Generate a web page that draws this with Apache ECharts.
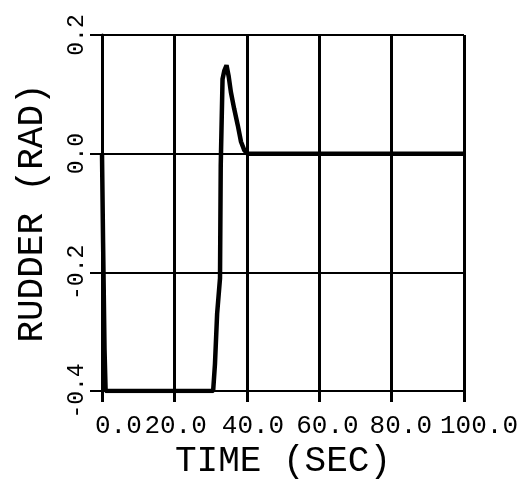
<!DOCTYPE html>
<html>
<head>
<meta charset="utf-8">
<script src="https://cdn.jsdelivr.net/npm/echarts@6/dist/echarts.min.js"></script>
<style>
  html, body { margin: 0; padding: 0; background: #ffffff; }
  #chart { width: 523px; height: 487px; }
</style>
</head>
<body>
<div id="chart"></div>
<script>
// Rudder deflection history
const timeSec = [0, 0.3, 0.7, 1.0, 30.7, 31.2, 31.8, 32.6, 32.8, 33.3, 33.8, 34.4, 35.0, 35.6, 36.5, 37.5, 38.4, 39.3, 40.2, 100];
const rudderRad = [0.0, -0.15, -0.33, -0.4, -0.4, -0.355, -0.27, -0.21, -0.02, 0.126, 0.14, 0.149, 0.13, 0.104, 0.076, 0.048, 0.02, 0.006, 0.0, 0.0];

const xTicks = [0, 20, 40, 60, 80, 100];
const xTickLabels = ['0.0', '20.0', '40.0', '60.0', '80.0', '100.0'];
const yTicks = [-0.4, -0.2, 0.0, 0.2];
const yTickLabels = ['-0.4', '-0.2', '0.0', '0.2'];

const FONT = 'Liberation Mono';

// Plotter-style labels start a little left of each tick (the first one near the tick);
// a fixed box width per label sets where its text begins.
const xLabelBox = [14, 60, 50, 46, 44, 48];
const xRich = {};
xTicks.forEach((t, i) => {
  xRich['t' + i] = { fontFamily: FONT, fontSize: 26, color: '#000', width: xLabelBox[i], align: 'left' };
});

const chart = echarts.init(document.getElementById('chart'), null, { renderer: 'canvas' });

chart.setOption({
  backgroundColor: '#ffffff',
  animation: false,
  grid: { left: 102, right: 59, top: 35, bottom: 96, containLabel: false },
  xAxis: {
    type: 'value',
    min: xTicks[0],
    max: xTicks[xTicks.length - 1],
    interval: xTicks[1] - xTicks[0],
    name: 'TIME (SEC)',
    nameLocation: 'middle',
    nameGap: 39,
    nameTextStyle: { fontFamily: FONT, fontSize: 36, color: '#000' },
    axisLine: { show: true, onZero: false, lineStyle: { color: '#000', width: 2 } },
    axisTick: { show: true, inside: false, length: 11, lineStyle: { color: '#000', width: 3 } },
    splitLine: { show: true, lineStyle: { color: '#000', width: 3 } },
    axisLabel: {
      margin: 22,
      hideOverlap: false,
      showMinLabel: true,
      showMaxLabel: true,
      formatter: v => {
        const i = xTicks.indexOf(v);
        return '{t' + i + '|' + xTickLabels[i] + '}';
      },
      rich: xRich
    }
  },
  yAxis: {
    type: 'value',
    min: yTicks[0],
    max: yTicks[yTicks.length - 1],
    interval: 0.2,
    name: 'RUDDER (RAD)',
    nameLocation: 'middle',
    nameGap: 52,
    nameRotate: 90,
    nameTextStyle: { fontFamily: FONT, fontSize: 36, color: '#000' },
    axisLine: { show: true, lineStyle: { color: '#000', width: 3 } },
    axisTick: { show: true, inside: false, length: 12, lineStyle: { color: '#000', width: 2 } },
    splitLine: { show: true, lineStyle: { color: '#000', width: 2 } },
    axisLabel: {
      fontFamily: FONT, fontSize: 23, color: '#000', margin: 14, rotate: 90,
      showMinLabel: true,
      showMaxLabel: true,
      formatter: v => yTickLabels[yTicks.findIndex(t => Math.abs(t - v) < 1e-9)]
    }
  },
  series: [{
    type: 'line',
    data: timeSec.map((t, i) => [t, rudderRad[i]]),
    showSymbol: false,
    lineStyle: { color: '#000', width: 4.5 },
    z: 5
  }]
});
</script>
</body>
</html>
